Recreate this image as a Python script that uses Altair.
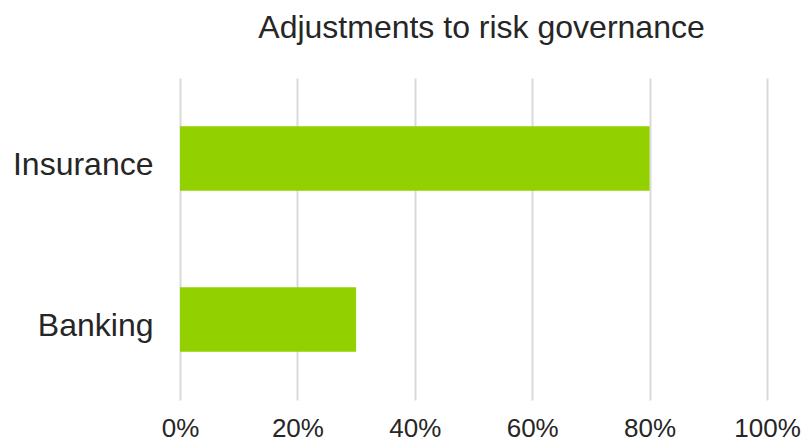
import altair as alt
import pandas as pd

categories = ["Insurance", "Banking"]
values = [0.80, 0.30]

df = pd.DataFrame({"sector": categories, "share": values})

chart = alt.Chart(df).mark_bar(color="#92D000").encode(
    x=alt.X("share:Q", scale=alt.Scale(domain=[0, 1], nice=False),
            axis=alt.Axis(format="%", values=[0, 0.2, 0.4, 0.6, 0.8, 1.0], title=None,
                          domain=False, ticks=False, grid=True, gridColor="#d9d9d9", gridWidth=2,
                          labelFontSize=26, labelFont="Liberation Sans", labelColor="#262626",
                          labelPadding=15, labelFlush=False)),
    y=alt.Y("sector:N", sort=categories,
            scale=alt.Scale(paddingInner=0.6, paddingOuter=0.3),
            axis=alt.Axis(title=None, domain=False, ticks=False, labelFontSize=32,
                          labelFont="Liberation Sans", labelColor="#262626", labelPadding=27,
                          labelOffset=6)),
).properties(
    width=587, height=322,
    title=alt.TitleParams("Adjustments to risk governance", fontSize=32, font="Liberation Sans",
                          fontWeight="normal", color="#262626", anchor="middle", dx=8, offset=33),
    autosize=alt.AutoSizeParams(type="none"),
    padding={"left": 180, "top": 78, "right": 36, "bottom": 43},
).configure_view(stroke=None)

chart.save("out.html", embed_options={"renderer": "svg", "actions": False})
